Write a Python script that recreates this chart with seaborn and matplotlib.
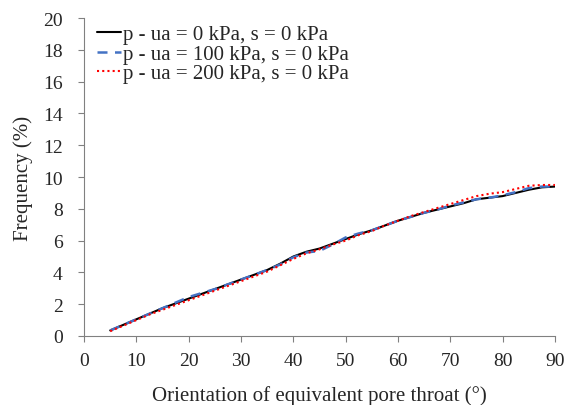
import matplotlib
matplotlib.use("Agg")
import matplotlib.pyplot as plt
import seaborn as sns
import pandas as pd

angle = [5, 7.5, 10, 12.5, 15, 17.5, 20, 22.5, 25, 27.5, 30, 32.5, 35, 37.5, 40, 42.5, 45, 47.5,
         50, 52.5, 55, 57.5, 60, 62.5, 65, 67.5, 70, 72.5, 75, 77.5, 80, 82.5, 85, 87.5, 90]
freq_0 = [0.35, 0.7, 1.05, 1.4, 1.75, 2.05, 2.35, 2.65, 2.95, 3.25, 3.55, 3.85, 4.15, 4.55, 5.0, 5.3,
          5.5, 5.8, 6.1, 6.4, 6.65, 6.95, 7.25, 7.5, 7.75, 7.95, 8.15, 8.35, 8.6, 8.7, 8.8, 9.0, 9.2, 9.35, 9.4]
freq_100 = [0.35, 0.7, 1.05, 1.4, 1.75, 2.1, 2.45, 2.7, 2.95, 3.25, 3.55, 3.85, 4.15, 4.5, 4.95, 5.25,
            5.35, 5.75, 6.2, 6.45, 6.65, 6.95, 7.25, 7.5, 7.75, 7.95, 8.2, 8.4, 8.6, 8.7, 8.85, 9.05, 9.3, 9.4, 9.4]
freq_200 = [0.3, 0.65, 1.0, 1.35, 1.65, 1.95, 2.25, 2.55, 2.85, 3.15, 3.45, 3.75, 4.05, 4.45, 4.85, 5.2,
            5.45, 5.75, 6.0, 6.35, 6.6, 6.95, 7.25, 7.55, 7.8, 8.05, 8.3, 8.55, 8.8, 8.95, 9.05, 9.25, 9.45, 9.5, 9.5]
labels = ["p - ua = 0 kPa, s = 0 kPa", "p - ua = 100 kPa, s = 0 kPa", "p - ua = 200 kPa, s = 0 kPa"]

sns.set_style("ticks")
plt.rcParams['font.family'] = ['Liberation Serif', 'DejaVu Serif']

fig = plt.figure(figsize=(5.68, 4.06), dpi=100)
ax = fig.add_axes([0.148, 0.170, 0.829, 0.783])

df = pd.DataFrame({"angle": angle * 3,
                   "freq": freq_0 + freq_100 + freq_200,
                   "series": [labels[0]] * len(angle) + [labels[1]] * len(angle) + [labels[2]] * len(angle)})

styles = [dict(color="black", ls="-", lw=1.5),
          dict(color="#4472C4", ls=(0, (4, 3)), lw=1.8),
          dict(color="#FF0000", ls=(0, (1, 1.5)), lw=1.5)]
for lab, st in zip(labels, styles):
    sub = df[df.series == lab]
    sns.lineplot(data=sub, x="angle", y="freq", ax=ax, label=lab, **st)

ax.set_xlim(0, 90)
ax.set_ylim(0, 20)
ax.set_xticks(range(0, 91, 10))
ax.set_yticks(range(0, 21, 2))
ax.set_xlabel("Orientation of equivalent pore throat (°)", fontsize=15, labelpad=12)
ax.set_ylabel("Frequency (%)", fontsize=15, labelpad=7.5)
ax.tick_params(labelsize=14, length=4.3, color="#808080")
ax.tick_params(axis="x", pad=7)
ax.tick_params(axis="y", pad=11)
for s in ["top", "right"]:
    ax.spines[s].set_visible(False)
for s in ["left", "bottom"]:
    ax.spines[s].set_color("#808080")
ax.legend(loc="upper left", frameon=False, fontsize=15, handlelength=1.15, handletextpad=0.12,
          borderaxespad=0.1, labelspacing=0.0, bbox_to_anchor=(0.005, 1.012))

fig.savefig("out.png", dpi=100)
